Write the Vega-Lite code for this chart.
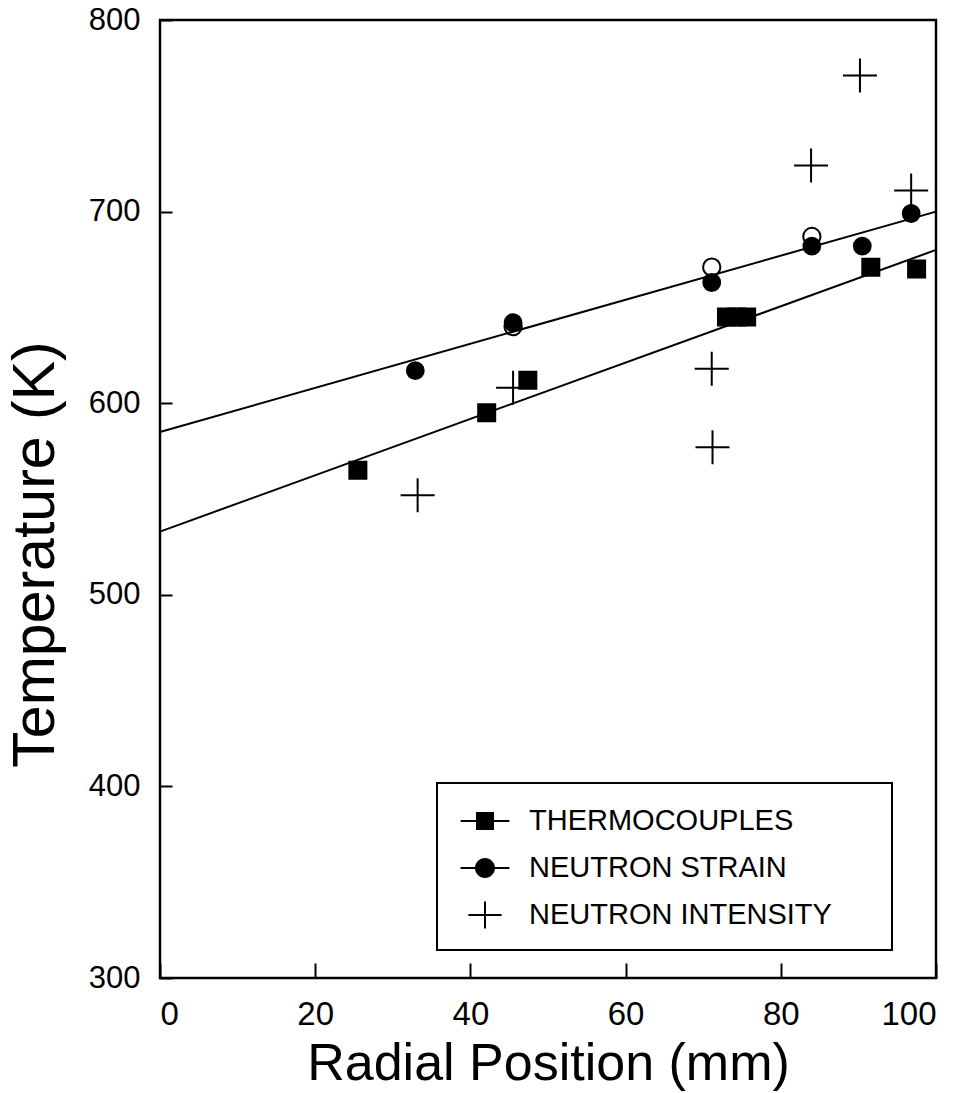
{
  "$schema": "https://vega.github.io/schema/vega-lite/v6.json",
  "width": 776,
  "height": 958,
  "autosize": {"type": "none"},
  "padding": {"left": 160, "top": 20, "right": 33, "bottom": 115},
  "background": "white",
  "config": {
    "view": {"stroke": "black", "strokeWidth": 2.5},
    "legend": {"strokeWidth": 2},
    "axis": {
      "domain": false,
      "grid": false,
      "tickColor": "black",
      "tickWidth": 2,
      "labelColor": "black",
      "titleColor": "black",
      "labelFont": "Liberation Sans",
      "titleFont": "Liberation Sans",
      "titleFontWeight": "normal"
    }
  },
  "datasets": {
    "fits": [
      {"fit": "upper", "x": 0, "y": 585},
      {"fit": "upper", "x": 100, "y": 700},
      {"fit": "lower", "x": 0, "y": 533},
      {"fit": "lower", "x": 100, "y": 680}
    ],
    "open": [
      {"x": 45.5, "y": 640},
      {"x": 71.1, "y": 671},
      {"x": 84.0, "y": 687}
    ],
    "points": [
      {"series": "THERMOCOUPLES", "x": 25.5, "y": 565},
      {"series": "THERMOCOUPLES", "x": 42.1, "y": 595},
      {"series": "THERMOCOUPLES", "x": 47.4, "y": 612},
      {"series": "THERMOCOUPLES", "x": 73.0, "y": 645},
      {"series": "THERMOCOUPLES", "x": 74.3, "y": 645},
      {"series": "THERMOCOUPLES", "x": 75.6, "y": 645},
      {"series": "THERMOCOUPLES", "x": 91.6, "y": 671},
      {"series": "THERMOCOUPLES", "x": 97.5, "y": 670},
      {"series": "NEUTRON STRAIN", "x": 32.9, "y": 617},
      {"series": "NEUTRON STRAIN", "x": 45.5, "y": 642},
      {"series": "NEUTRON STRAIN", "x": 71.1, "y": 663},
      {"series": "NEUTRON STRAIN", "x": 84.0, "y": 682},
      {"series": "NEUTRON STRAIN", "x": 90.5, "y": 682},
      {"series": "NEUTRON STRAIN", "x": 96.8, "y": 699},
      {"series": "NEUTRON INTENSITY", "x": 33.2, "y": 552},
      {"series": "NEUTRON INTENSITY", "x": 45.5, "y": 608},
      {"series": "NEUTRON INTENSITY", "x": 71.1, "y": 618},
      {"series": "NEUTRON INTENSITY", "x": 71.2, "y": 577},
      {"series": "NEUTRON INTENSITY", "x": 83.9, "y": 724},
      {"series": "NEUTRON INTENSITY", "x": 90.2, "y": 771},
      {"series": "NEUTRON INTENSITY", "x": 96.8, "y": 711}
    ]
  },
  "encoding": {
    "x": {
      "field": "x",
      "type": "quantitative",
      "scale": {"domain": [0, 100], "nice": false, "zero": false},
      "axis": {
        "values": [0, 20, 40, 60, 80, 100],
        "title": "Radial Position (mm)",
        "tickSize": -15,
        "labelPadding": 35,
        "labelFontSize": 33,
        "titleFontSize": 52,
        "titleY": 101,
        "titleBaseline": "alphabetic"
      }
    },
    "y": {
      "field": "y",
      "type": "quantitative",
      "scale": {"domain": [300, 800], "nice": false, "zero": false},
      "axis": {
        "values": [300, 400, 500, 600, 700, 800],
        "title": "Temperature (K)",
        "tickSize": -12,
        "labelPadding": 32,
        "labelFontSize": 31,
        "titleFontSize": 59,
        "titleAngle": -90,
        "titleX": -107,
        "titleY": 534,
        "titleBaseline": "alphabetic"
      }
    }
  },
  "layer": [
    {
      "data": {"name": "fits"},
      "mark": {"type": "line", "color": "black", "strokeWidth": 2},
      "encoding": {"detail": {"field": "fit", "type": "nominal"}}
    },
    {
      "data": {"name": "open"},
      "mark": {"type": "point", "shape": "circle", "filled": false, "stroke": "black", "strokeWidth": 2, "size": 300, "opacity": 1}
    },
    {
      "data": {"name": "points"},
      "transform": [{"filter": "datum.series === 'THERMOCOUPLES'"}],
      "mark": {"type": "point", "shape": "square", "filled": true, "fill": "black", "stroke": "black", "strokeWidth": 2, "opacity": 1, "size": 289}
    },
    {
      "data": {"name": "points"},
      "transform": [{"filter": "datum.series === 'NEUTRON STRAIN'"}],
      "mark": {"type": "point", "shape": "circle", "filled": true, "fill": "black", "stroke": "black", "strokeWidth": 2, "opacity": 1, "size": 283}
    },
    {
      "data": {"name": "points"},
      "transform": [{"filter": "datum.series === 'NEUTRON INTENSITY'"}],
      "mark": {"type": "point", "shape": "M-1,0H1M0,-1V1", "filled": false, "stroke": "black", "strokeWidth": 2, "opacity": 1, "size": 1156}
    },
    {
      "data": {"name": "points"},
      "mark": {"type": "point", "filled": true, "strokeWidth": 2, "opacity": 0},
      "encoding": {
        "fill": {"value": "black"},
        "stroke": {"value": "black"},
        "shape": {
          "field": "series",
          "type": "nominal",
          "scale": {
            "domain": ["THERMOCOUPLES", "NEUTRON STRAIN", "NEUTRON INTENSITY"],
            "range": [
              "M-1.22,-0.05H1.22V0.05H-1.22ZM-0.45,-0.45H0.45V0.45H-0.45ZM19.3,0",
              "M-1.22,-0.05H1.22V0.05H-1.22ZM0.5,0C0.5,0.2761,0.2761,0.5,0,0.5C-0.2761,0.5,-0.5,0.2761,-0.5,0C-0.5,-0.2761,-0.2761,-0.5,0,-0.5C0.2761,-0.5,0.5,-0.2761,0.5,0Z",
              "M-0.83,-0.05H0.83V0.05H-0.83ZM-0.05,-0.68H0.05V0.68H-0.05Z"
            ]
          },
          "legend": {
            "orient": "none",
            "legendX": 277,
            "legendY": 763,
            "title": null,
            "strokeColor": "black",
            "padding": 17,
            "symbolSize": 1600,
            "symbolOffset": 10,
            "labelOffset": 23,
            "rowPadding": 11,
            "labelFont": "Liberation Sans",
            "labelFontSize": 29,
            "labelColor": "black",
            "labelLimit": 1000,
            "symbolOpacity": 1,
            "symbolFillColor": "black",
            "symbolStrokeColor": "black",
            "symbolStrokeWidth": 2
          }
        }
      }
    }
  ]
}
